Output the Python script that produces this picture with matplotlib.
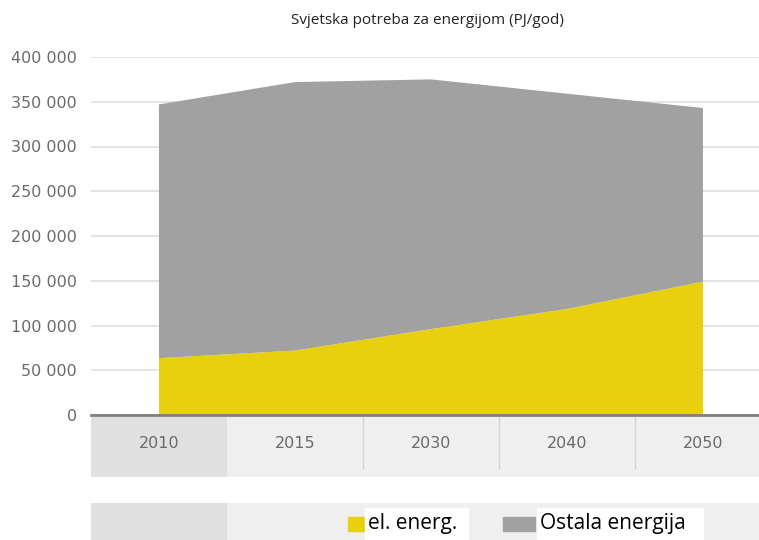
import matplotlib.pyplot as plt
from matplotlib.patches import Rectangle
from matplotlib.ticker import FuncFormatter

### data
years = ['2010', '2015', '2030', '2040', '2050']
el_energ = [63500, 72000, 96000, 118500, 149000]
ostala = [283500, 300000, 279000, 240500, 194000]
y_ticks = [0, 50000, 100000, 150000, 200000, 250000, 300000, 350000, 400000]

yellow = '#E8D00F'
grey = '#A0A1A0'
label_col = '#6A6A6A'

W, H = 759, 540
fig = plt.figure(figsize=(W / 100, H / 100), dpi=100)


def box(x0, y0, x1, y1):
    # pixel box (top-left origin) -> figure fraction rect
    return [x0 / W, 1 - y1 / H, (x1 - x0) / W, (y1 - y0) / H]


x = list(range(len(years)))
xlim = (-0.5, (W - 159) / 136)

### main stacked area
ax = fig.add_axes(box(91, 57, W, 415))
ax.stackplot(x, el_energ, ostala, colors=[yellow, grey], linewidth=0, zorder=2)
ax.set_xlim(*xlim)
ax.set_ylim(0, 400000)
ax.set_yticks(y_ticks)
ax.yaxis.set_major_formatter(FuncFormatter(lambda v, p: '{:,.0f}'.format(v).replace(',', ' ')))
ax.tick_params(axis='y', length=0, pad=10, labelsize=11.5, labelcolor=label_col)
ax.set_xticks([])
ax.grid(axis='y', color='#DEDEDE', linewidth=1.2, zorder=0)
for s in ['top', 'right', 'left']:
    ax.spines[s].set_visible(False)
ax.spines['bottom'].set_color('#7F7F7F')
ax.spines['bottom'].set_linewidth(2)
ax.spines['bottom'].set_zorder(3)

fig.text(427 / W, 1 - 21 / H, 'Svjetska potreba za energijom (PJ/god)',
         ha='center', va='center', fontsize=11, family='Open Sans', color='#222222')

### category strip under the axis
tx = fig.add_axes(box(91, 417, W, 477))
tx.set_xlim(*xlim)
tx.set_ylim(0, 1)
tx.axis('off')
for i, yr in enumerate(years):
    tx.axvspan(i - 0.5, i + 0.5, color='#E0E0E0' if i == 0 else '#EFEFEF', lw=0)
    tx.text(i, 0.55, yr, ha='center', va='center', fontsize=11.5, color=label_col)
    if i > 1:
        tx.axvline(i - 0.5, ymin=0.15, ymax=1, color='#D2D2D2', lw=1)

### legend strip
lx = fig.add_axes(box(91, 503, W, H))
lx.set_xlim(*xlim)
lx.set_ylim(0, 1)
lx.axis('off')
for i in range(len(years)):
    lx.axvspan(i - 0.5, i + 0.5, color='#E0E0E0' if i == 0 else '#EFEFEF', lw=0)

fig.patches.append(Rectangle((348 / W, 1 - 531 / H), 16 / W, 14 / H,
                             transform=fig.transFigure, color=yellow, zorder=5))
fig.patches.append(Rectangle((365 / W, 0), 103 / W, 1 - 508 / H,
                             transform=fig.transFigure, color='white', zorder=5))
fig.patches.append(Rectangle((503 / W, 1 - 531 / H), 32 / W, 14 / H,
                             transform=fig.transFigure, color=grey, zorder=5))
fig.patches.append(Rectangle((537 / W, 0), 166 / W, 1 - 508 / H,
                             transform=fig.transFigure, color='white', zorder=5))
fig.text(368 / W, 1 - 524 / H, 'el. energ.', ha='left', va='center',
         fontsize=15, family='Open Sans', color='black', zorder=6)
fig.text(540 / W, 1 - 524 / H, 'Ostala energija', ha='left', va='center',
         fontsize=15, family='Open Sans', color='black', zorder=6)

fig.savefig('out.png', dpi=100)
